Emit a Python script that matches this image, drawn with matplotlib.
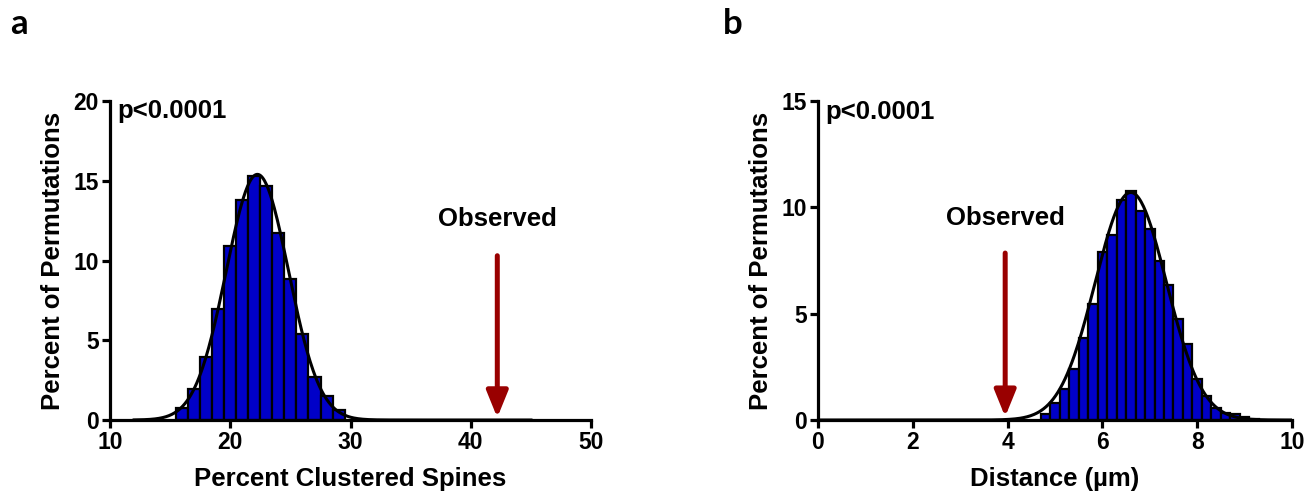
import numpy as np
import matplotlib
matplotlib.use("Agg")
import matplotlib.pyplot as plt

# panel a : percent clustered spines, bins of width 1
a_centers = [16, 17, 18, 19, 20, 21, 22, 23, 24, 25, 26, 27, 28, 29]
a_percent = [0.77, 1.92, 3.94, 6.98, 10.9, 13.8, 15.3, 14.7, 11.75, 8.83, 5.4, 2.69, 1.5, 0.65]
a_fit = {"mean": 22.25, "sd": 2.59, "peak": 15.4}
a_observed = 42.2

# panel b : distance (um), bins of width 0.2
b_centers = [4.8, 5.0, 5.2, 5.4, 5.6, 5.8, 6.0, 6.2, 6.4, 6.6, 6.8, 7.0, 7.2,
             7.4, 7.6, 7.8, 8.0, 8.2, 8.4, 8.6, 8.8, 9.0, 9.2]
b_percent = [0.28, 0.78, 1.48, 2.38, 3.86, 5.47, 7.9, 8.7, 10.35, 10.75, 9.84, 8.98, 7.47,
             6.36, 4.77, 3.58, 1.95, 1.13, 0.58, 0.31, 0.29, 0.12, 0.05]
b_fit = {"mean": 6.6, "sd": 0.75, "peak": 10.7}
b_observed = 3.95

BAR_COLOR = "#0000C8"
ARROW_COLOR = "#990000"

plt.rcParams["font.family"] = ["Liberation Sans", "DejaVu Sans"]
plt.rcParams["font.weight"] = "bold"

fig = plt.figure(figsize=(13.15, 4.97), dpi=100)
ax_a = fig.add_axes([0.0837, 0.1549, 0.3658, 0.6419])
ax_b = fig.add_axes([0.622, 0.1549, 0.3605, 0.6419])


def gauss(x, fit):
    return fit["peak"] * np.exp(-(x - fit["mean"]) ** 2 / (2 * fit["sd"] ** 2))


def style(ax):
    for s in ["top", "right"]:
        ax.spines[s].set_visible(False)
    for s in ["left", "bottom"]:
        ax.spines[s].set_linewidth(2.3)
    ax.tick_params(width=2.3, length=6, labelsize=16.5, direction="out", pad=2)
    for lab in ax.get_xticklabels() + ax.get_yticklabels():
        lab.set_fontweight("bold")


def panel(ax, centers, vals, width, fit, xcurve, obs, obs_top, txt_y, xlim, ylim,
          xticks, yticks, xlabel, p_y):
    ax.bar(centers, vals, width=width, color=BAR_COLOR, edgecolor="black",
           linewidth=1.6, zorder=2)
    xs = np.linspace(xcurve[0], xcurve[1], 400)
    ax.plot(xs, gauss(xs, fit), color="black", lw=2.2, zorder=3)
    ax.annotate("", xy=(obs, 0.15), xytext=(obs, obs_top),
                arrowprops=dict(arrowstyle="-|>,head_width=0.65,head_length=1.6",
                                color=ARROW_COLOR, lw=3.6, shrinkA=0, shrinkB=0),
                zorder=4)
    ax.text(obs, txt_y, "Observed", ha="center", va="center", fontsize=18.5,
            fontweight="bold")
    ax.text(xlim[0] + (xlim[1] - xlim[0]) * 0.015, p_y, "p<0.0001", ha="left",
            va="center", fontsize=18.5, fontweight="bold")
    ax.set_xlim(*xlim)
    ax.set_ylim(*ylim)
    ax.set_xticks(xticks)
    ax.set_yticks(yticks)
    ax.set_xlabel(xlabel, fontsize=18.5, fontweight="bold", labelpad=9)
    ax.set_ylabel("Percent of Permutations", fontsize=18.5, fontweight="bold", labelpad=6)
    style(ax)


panel(ax_a, a_centers, a_percent, 1.0, a_fit, (12, 45), a_observed, 10.3, 12.6,
      (10, 50), (0, 20), [10, 20, 30, 40, 50], [0, 5, 10, 15, 20],
      "Percent Clustered Spines", 19.4)
panel(ax_b, b_centers, b_percent, 0.2, b_fit, (0, 10), b_observed, 7.85, 9.5,
      (0, 10), (0, 15), [0, 2, 4, 6, 8, 10], [0, 5, 10, 15],
      "Distance (\u00b5m)", 14.5)

fig.text(0.0145, 0.952, "a", fontsize=25, fontweight="bold", family=["Lato", "DejaVu Sans"],
         ha="center", va="center")
fig.text(0.5575, 0.952, "b", fontsize=25, fontweight="bold", family=["Lato", "DejaVu Sans"],
         ha="center", va="center")

fig.savefig("out.png", dpi=100)
